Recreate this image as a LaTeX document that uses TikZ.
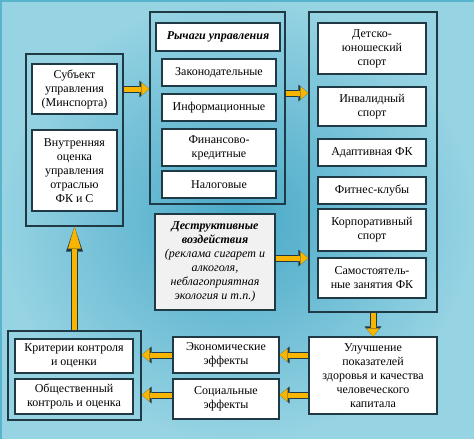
\documentclass[tikz,border=0pt]{standalone}
\usepackage{fontspec}
\setmainfont{Liberation Serif}
\usetikzlibrary{arrows.meta}

\definecolor{bgin}{HTML}{48A8C7}
\definecolor{bgout}{HTML}{96D3E3}
\definecolor{bgline}{HTML}{58B3CC}
\definecolor{edge}{HTML}{1F3A45}
\definecolor{gold}{HTML}{F7B500}
\definecolor{paper}{HTML}{F1F1F1}

\begin{document}
\begin{tikzpicture}[x=1pt,y=-1pt,
    font=\fontsize{12}{14}\selectfont,
    frame/.style={draw=edge,line width=1.4pt,inner sep=0pt},
    box/.style={draw=edge,fill=white,line width=1.1pt,align=center,inner sep=1pt},
    fatarrow/.style 2 args={draw=gold,line width=5pt,-{Triangle[length=#1,width=13pt,line width=0pt]},
        preaction={draw=edge,line width=7pt,-{Triangle[length=#2,width=17pt,line width=0pt]}}},
    fat/.style={fatarrow={8pt}{10pt}}]
    \useasboundingbox (0,0) rectangle (474,439);
    \shade[inner color=bgin,outer color=bgout] (0,0) rectangle (474,439);
    \draw[line width=3pt,bgline] (0,439) -- (0,0) -- (474,0);

    \node[frame,minimum width=97pt,minimum height=172pt] (L) at (74.5,140) {};
    \node[box,minimum width=85pt,minimum height=50pt] (L1) at (74.5,89) {Субъект\\управления\\(Минспорта)};
    \node[box,minimum width=85pt,minimum height=81pt] (L2) at (74.5,170.5) {Внутренняя\\оценка\\управления\\отраслью\\ФК и С};

    \node[frame,minimum width=135pt,minimum height=192pt] (M) at (217.5,108) {};
    \node[box,minimum width=124pt,minimum height=28pt,font=\fontsize{12}{14}\selectfont\bfseries\itshape] (M0) at (218,37) {Рычаги управления};
    \node[box,minimum width=114pt,minimum height=27pt] (M1) at (219,72.5) {Законодательные};
    \node[box,minimum width=114pt,minimum height=27pt] (M2) at (219,107.5) {Информационные};
    \node[box,minimum width=114pt,minimum height=37pt] (M3) at (219,147.5) {Финансово-\\кредитные};
    \node[box,minimum width=114pt,minimum height=27pt] (M4) at (219,184.5) {Налоговые};

    \node[frame,minimum width=128pt,minimum height=300pt] (R) at (373,162) {};
    \node[box,minimum width=108pt,minimum height=51pt] (R1) at (372,48.5) {Детско-\\юношеский\\спорт};
    \node[box,minimum width=108pt,minimum height=39pt] (R2) at (372,106.5) {Инвалидный\\спорт};
    \node[box,minimum width=108pt,minimum height=27pt] (R3) at (372,152.5) {Адаптивная ФК};
    \node[box,minimum width=108pt,minimum height=27pt] (R4) at (372,190.5) {Фитнес-клубы};
    \node[box,minimum width=108pt,minimum height=42pt] (R5) at (372,230) {Корпоративный\\спорт};
    \node[box,minimum width=108pt,minimum height=40pt] (R6) at (372,278) {Самостоятель-\\ные занятия ФК};

    \node[box,fill=paper,minimum width=120pt,minimum height=96pt,font=\fontsize{12}{14}\selectfont\itshape] (D) at (215,262)
        {\textbf{Деструктивные}\\\textbf{воздействия}\\(реклама сигарет и\\алкоголя,\\неблагоприятная\\экология и т.п.)};

    \node[box,minimum width=128pt,minimum height=77pt] (U) at (373,375.5) {Улучшение\\показателей\\здоровья и качества\\человеческого\\капитала};
    \node[box,minimum width=106pt,minimum height=36pt] (E1) at (226,355) {Экономические\\эффекты};
    \node[box,minimum width=106pt,minimum height=40pt] (E2) at (226,399) {Социальные\\эффекты};

    \node[frame,minimum width=133pt,minimum height=89pt] (K) at (74.5,375.5) {};
    \node[box,minimum width=118pt,minimum height=34pt] (K1) at (74,356) {Критерии контроля\\и оценки};
    \node[box,minimum width=118pt,minimum height=35pt] (K2) at (74,396.5) {Общественный\\контроль и оценка};

    \draw[fat] (L1 -| L.east) -- (L1 -| M.west);
    \draw[fat] ([yshift=15pt]M.east) -- ([yshift=69pt]R.west);
    \draw[fat] ([yshift=4pt]D.east) -- ([yshift=-96pt]R.west);
    \draw[fat] (R.south) -- (U.north);
    \draw[fat] (E1 -| U.west) -- (E1.east);
    \draw[fat] ([yshift=4pt]U.west |- E2) -- ([yshift=4pt]E2.east);
    \draw[fat] (E1.west) -- (E1 -| K.east);
    \draw[fat] ([yshift=4pt]E2.west) -- ([yshift=-19.5pt]K.east);
    \draw[fatarrow={22pt}{25pt}] (K.north) -- (L.south);
\end{tikzpicture}
\end{document}
